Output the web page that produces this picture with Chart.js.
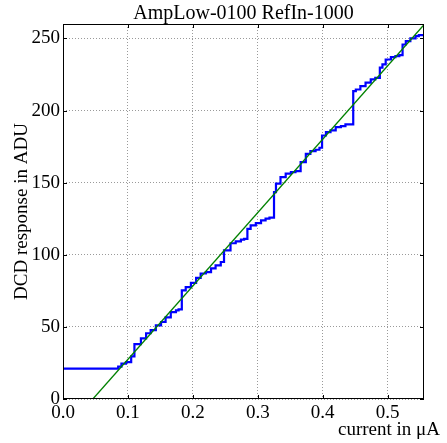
<!DOCTYPE html>
<html>
<head>
<meta charset="utf-8">
<script src="https://cdn.jsdelivr.net/npm/chart.js@4/dist/chart.umd.min.js"></script>
<style>
  body { margin: 0; background: #fff; }
  #wrap { width: 447px; height: 443px; }
</style>
</head>
<body>
<div id="wrap"><canvas id="dcdChart"></canvas></div>
<script>
const currentUA = [0.000, 0.085, 0.090, 0.097, 0.105, 0.110, 0.120, 0.128, 0.135, 0.143,
    0.151, 0.158, 0.166, 0.174, 0.178, 0.183, 0.189, 0.197, 0.205, 0.212,
    0.220, 0.228, 0.235, 0.243, 0.248, 0.258, 0.266, 0.274, 0.279, 0.284,
    0.289, 0.297, 0.305, 0.312, 0.318, 0.325, 0.328, 0.335, 0.343, 0.351,
    0.358, 0.366, 0.374, 0.381, 0.389, 0.395, 0.399, 0.405, 0.412, 0.420,
    0.428, 0.435, 0.447, 0.451, 0.458, 0.466, 0.474, 0.481, 0.488, 0.492,
    0.497, 0.505, 0.512, 0.518, 0.523, 0.528, 0.535, 0.543, 0.548, 0.556];
const responseADU = [21.0, 22.5, 24.5, 25.6, 29.6, 38.0, 42.0, 45.6, 47.7, 51.0,
    53.4, 56.6, 60.3, 61.5, 62.2, 75.3, 77.6, 80.5, 84.0, 87.0,
    88.0, 90.6, 92.7, 95.0, 103.0, 108.0, 109.3, 110.5, 111.0, 118.0,
    120.4, 122.0, 123.8, 125.0, 125.7, 143.4, 149.3, 153.8, 156.2, 157.3,
    158.0, 164.2, 170.0, 171.9, 172.8, 174.2, 182.7, 185.0, 186.2, 188.5,
    189.2, 190.4, 213.5, 214.6, 216.9, 219.3, 221.6, 222.7, 229.7, 232.0,
    235.4, 237.0, 237.7, 238.4, 245.8, 248.1, 250.0, 251.6, 252.3, 252.3];

// linear fit
const fitCurrent = [0.046, 0.556];
const fitADU = [0, 259.5];

const xTicks = [0.0, 0.1, 0.2, 0.3, 0.4, 0.5];
const yTicks = [0, 50, 100, 150, 200, 250];

const serif = '"Liberation Serif", "Times New Roman", serif';

// frame + inward ticks like the original plot
const framePlugin = {
    id: 'frame',
    afterDraw(chart) {
        const ctx = chart.ctx;
        const a = chart.chartArea;
        const xs = chart.scales.x, ys = chart.scales.y;
        ctx.save();
        ctx.strokeStyle = '#000';
        ctx.lineWidth = 1;
        ctx.beginPath();
        xTicks.forEach(v => {
            const px = Math.round(xs.getPixelForValue(v)) + 0.5;
            ctx.moveTo(px, a.bottom); ctx.lineTo(px, a.bottom - 4);
            ctx.moveTo(px, a.top); ctx.lineTo(px, a.top + 4);
        });
        yTicks.forEach(v => {
            const py = Math.round(ys.getPixelForValue(v)) + 0.5;
            ctx.moveTo(a.left, py); ctx.lineTo(a.left + 4, py);
            ctx.moveTo(a.right, py); ctx.lineTo(a.right - 4, py);
        });
        ctx.stroke();
        ctx.strokeRect(a.left + 0.5, a.top + 0.5, a.right - a.left - 1, a.bottom - a.top - 1);

        ctx.fillStyle = '#000';
        ctx.font = '19px ' + serif;
        ctx.textAlign = 'right';
        ctx.textBaseline = 'alphabetic';
        ctx.fillText('current in \u03bcA', 440, 435);
        ctx.restore();
    }
};

const ctx = document.getElementById('dcdChart').getContext('2d');
const dcdChart = new Chart(ctx, {
    type: 'line',
    data: {
        datasets: [
            {
                label: 'fit',
                data: fitCurrent.map((x, i) => ({ x: x, y: fitADU[i] })),
                borderColor: '#008000',
                borderWidth: 1.3,
                pointRadius: 0,
                order: 0
            },
            {
                label: 'DCD response',
                data: currentUA.map((x, i) => ({ x: x, y: responseADU[i] })),
                borderColor: '#0000ff',
                borderWidth: 2.2,
                pointRadius: 0,
                // horizontal at the old value, then vertical at the new x
                stepped: 'before',
                order: 1
            }
        ]
    },
    options: {
        responsive: true,
        maintainAspectRatio: false,
        animation: false,
        layout: { padding: { left: 0, right: 23, top: 0, bottom: 0 } },
        plugins: {
            legend: { display: false },
            tooltip: { enabled: false },
            title: {
                display: true,
                text: 'AmpLow-0100 RefIn-1000',
                fullSize: false,
                color: '#000',
                font: { family: serif, size: 20, weight: 'normal', lineHeight: 1 },
                padding: { top: 4, bottom: 0 }
            }
        },
        scales: {
            x: {
                type: 'linear',
                min: 0,
                max: 0.556,
                afterBuildTicks: s => { s.ticks = xTicks.map(v => ({ value: v })); },
                afterFit: s => { s.height = 44; },
                grid: { color: '#9a9a9a', drawTicks: false },
                border: { display: false, dash: [1, 2] },
                ticks: {
                    color: '#000',
                    padding: 3,
                    maxRotation: 0,
                    font: { family: serif, size: 19 },
                    callback: v => v.toFixed(1)
                }
            },
            y: {
                min: 0,
                max: 260,
                afterBuildTicks: s => { s.ticks = yTicks.map(v => ({ value: v })); },
                afterFit: s => { s.width = 63; },
                grid: { color: '#9a9a9a', drawTicks: false },
                border: { display: false, dash: [1, 2] },
                title: {
                    display: true,
                    text: 'DCD response in ADU',
                    color: '#000',
                    font: { family: serif, size: 19 },
                    padding: { top: 11, bottom: 0 }
                },
                ticks: {
                    color: '#000',
                    padding: 3,
                    font: { family: serif, size: 19 }
                }
            }
        }
    },
    plugins: [framePlugin]
});
</script>
</body>
</html>
